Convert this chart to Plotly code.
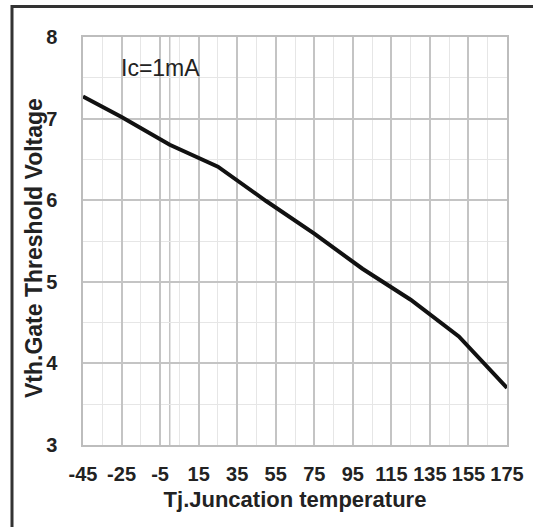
import plotly.graph_objects as go

# Data
temp_c = [-45, -25, 0, 25, 50, 75, 100, 125, 150, 175]
vth_v = [7.27, 7.02, 6.68, 6.41, 5.99, 5.59, 5.16, 4.78, 4.33, 3.70]

x_tick_vals = [-45, -25, -5, 15, 35, 55, 75, 95, 115, 135, 155, 175]
x_tick_text = [str(v) for v in x_tick_vals]
y_tick_vals = [3, 4, 5, 6, 7, 8]
extra_grid_x = [0]

annotation_text = "Ic=1mA"
x_title = "Tj.Juncation temperature"
y_title = "Vth.Gate Threshold Voltage"

W, H = 533, 527
ML, MR, MT, MB = 83, 26, 37, 82
PW, PH = W - ML - MR, H - MT - MB


def px_to_paper_x(px):
    return (px - ML) / PW


def px_to_paper_y(py):
    return (H - MB - py) / PH


fig = go.Figure()
fig.add_trace(go.Scatter(
    x=temp_c, y=vth_v, mode="lines",
    line=dict(color="#111111", width=4),
    showlegend=False, hoverinfo="skip",
))

major_grid = "#c4c4c4"
minor_grid = "#e6e6e6"

for gx in extra_grid_x:
    fig.add_shape(type="line", xref="x", yref="paper", x0=gx, x1=gx, y0=0, y1=1,
                  line=dict(color=major_grid, width=1.5), layer="below")

fig.add_annotation(
    x=-5, y=7.62, xref="x", yref="y", text=annotation_text, showarrow=False,
    font=dict(family="Liberation Sans, Arial, sans-serif", size=23, color="#222222"),
)

title_font_y = dict(family="Liberation Sans, Arial, sans-serif", size=23, color="#222222", weight="bold")
fig.add_annotation(
    x=px_to_paper_x(34), y=px_to_paper_y(248), xref="paper", yref="paper",
    text=y_title, textangle=-90, showarrow=False, font=title_font_y,
    xanchor="center", yanchor="middle",
)

# outer frame (top and left edges visible in reference)
fig.add_shape(type="rect", xref="paper", yref="paper",
              x0=px_to_paper_x(12), x1=px_to_paper_x(W + 20),
              y0=px_to_paper_y(H + 20), y1=px_to_paper_y(6.5),
              line=dict(color="#333333", width=3), fillcolor="rgba(0,0,0,0)")

tick_font = dict(family="Liberation Sans, Arial, sans-serif", size=20, color="#222222", weight="bold")
title_font_x = dict(family="Liberation Sans, Arial, sans-serif", size=22, color="#222222", weight="bold")

fig.update_layout(
    width=W, height=H,
    margin=dict(l=ML, r=MR, t=MT, b=MB, pad=0, autoexpand=False),
    paper_bgcolor="white", plot_bgcolor="white",
    xaxis=dict(
        range=[-45, 175], tickmode="array", tickvals=x_tick_vals, ticktext=x_tick_text,
        showgrid=True, gridcolor=major_grid, gridwidth=1.5,
        minor=dict(tick0=-45, dtick=10, showgrid=True, gridcolor=minor_grid, gridwidth=1),
        showline=True, linecolor="#bdbdbd", linewidth=1.5, mirror=True,
        ticks="", zeroline=False, ticklabelstandoff=10, automargin=False,
        tickfont=tick_font,
        title=dict(text=x_title, font=title_font_x, standoff=8),
    ),
    yaxis=dict(
        range=[3, 8], tickmode="array", tickvals=y_tick_vals,
        showgrid=True, gridcolor=major_grid, gridwidth=1.5,
        minor=dict(tick0=3, dtick=0.5, showgrid=True, gridcolor=minor_grid, gridwidth=1),
        showline=True, linecolor="#bdbdbd", linewidth=1.5, mirror=True,
        ticks="", zeroline=False, ticklabelstandoff=20, automargin=False,
        tickfont=tick_font,
    ),
)

fig.write_html(
    "out.html",
    config={"displayModeBar": False},
    post_script="document.body.style.margin='0';document.body.style.overflow='hidden';",
)
